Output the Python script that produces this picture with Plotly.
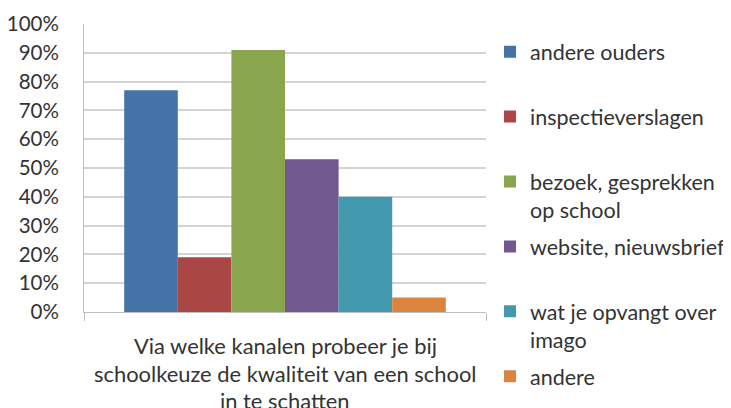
import plotly.graph_objects as go

# Data
QUESTION_LINES = [
    "Via welke kanalen probeer je bij",
    "schoolkeuze de kwaliteit van een school",
    "in te schatten",
]
SERIES = [
    "andere ouders",
    "inspectieverslagen",
    "bezoek, gesprekken<br>op school",
    "website, nieuwsbrief",
    "wat je opvangt over<br>imago",
    "andere",
]
VALUES = [0.77, 0.19, 0.91, 0.53, 0.40, 0.05]
COLORS = ["#4572A7", "#AA4643", "#89A54E", "#71588F", "#4198AF", "#DB843D"]
Y_TICKS = [i / 10 for i in range(11)]

FONT = "Lato"
TEXT = "#333333"
GRID = "#d4d4d4"

category = " ".join(QUESTION_LINES)

fig = go.Figure()
for k, (name, val, col) in enumerate(zip(SERIES, VALUES, COLORS)):
    # pad single-line names so every legend entry has the same height
    label = name
    if "<br>" not in name and k < len(SERIES) - 1:
        label = name + "<br> "
    fig.add_trace(go.Bar(
        x=[category], y=[val], name=label,
        marker=dict(color=col, line=dict(width=0)),
        legendgroup=name,
        hovertemplate=name.replace("<br>", " ") + ": %{y:.0%}<extra></extra>",
    ))

# x-axis title as three centred lines under the plot
for i, line in enumerate(QUESTION_LINES):
    fig.add_annotation(
        text=line, xref="paper", yref="paper",
        x=0.5, y=-0.115 - i * 0.097, xanchor="center", yanchor="middle",
        showarrow=False, font=dict(family=FONT, size=21.9, color=TEXT),
    )

fig.update_layout(
    width=731, height=408,
    margin=dict(l=76, r=253, t=16, b=104, autoexpand=False),
    paper_bgcolor="white", plot_bgcolor="white",
    barmode="group", bargap=0.2, bargroupgap=0,
    font=dict(family=FONT, size=20, color=TEXT),
    legend=dict(
        x=1.01, xanchor="left", y=0.975, yanchor="top",
        valign="top", tracegroupgap=6, itemwidth=30, maxheight=420,
        font=dict(family=FONT, size=21.5, color=TEXT),
    ),
    xaxis=dict(
        showticklabels=False, showline=True, linecolor="#bfbfbf", linewidth=1,
        ticks="outside", tickson="boundaries", ticklen=8, tickcolor="#bfbfbf",
        showgrid=False, zeroline=False,
    ),
    yaxis=dict(
        range=[0, 1], tickvals=Y_TICKS, tickformat=".0%",
        showgrid=True, gridcolor=GRID, gridwidth=1.5,
        showline=True, linecolor="#bfbfbf", linewidth=1,
        zeroline=False, ticks="", ticklabelstandoff=20,
        tickfont=dict(family=FONT, size=20.5, color=TEXT),
    ),
)

fig.write_html("out.html")
